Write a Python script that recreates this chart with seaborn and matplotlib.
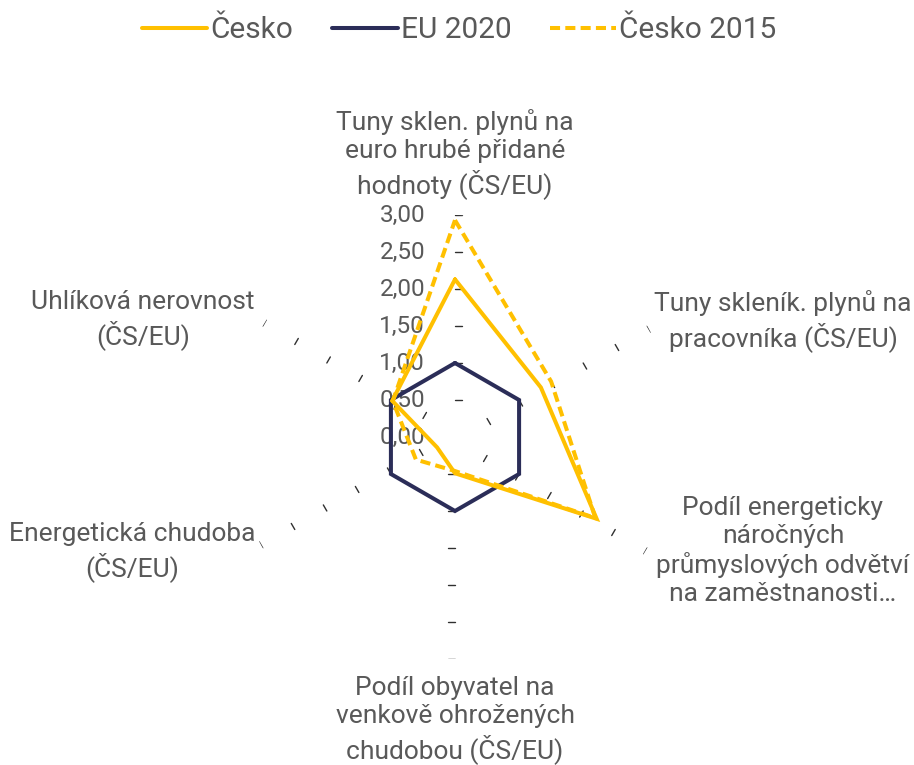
import numpy as np
import pandas as pd
import matplotlib
matplotlib.use("Agg")
import matplotlib.pyplot as plt
import seaborn as sns

categories = [
    "Tuny sklen. plynů na\neuro hrubé přidané\nhodnoty (ČS/EU)",
    "Tuny skleník. plynů na\npracovníka (ČS/EU)",
    "Podíl energeticky\nnáročných\nprůmyslových odvětví\nna zaměstnanosti…",
    "Podíl obyvatel na\nvenkově ohrožených\nchudobou (ČS/EU)",
    "Energetická chudoba\n(ČS/EU)",
    "Uhlíková nerovnost\n(ČS/EU)",
]
cesko = [2.13, 1.34, 2.21, 0.49, 0.28, 0.98]
eu2020 = [1.00, 1.00, 1.00, 1.00, 1.00, 1.00]
cesko2015 = [2.93, 1.50, 2.19, 0.46, 0.61, 0.97]
series_names = ["Česko", "EU 2020", "Česko 2015"]
tick_values = [0.0, 0.5, 1.0, 1.5, 2.0, 2.5, 3.0]
tick_labels = ["0,00", "0,50", "1,00", "1,50", "2,00", "2,50", "3,00"]

YELLOW = "#FFC000"
NAVY = "#2B2D58"
GREY = "#595959"

sns.set_theme(style="white")
plt.rcParams["font.family"] = ["Roboto", "DejaVu Sans"]

n = len(categories)
theta = np.linspace(0, 2 * np.pi, n, endpoint=False)

rows = []
for name, vals in zip(series_names, [cesko, eu2020, cesko2015]):
    for t, v in zip(list(theta) + [2 * np.pi], list(vals) + [vals[0]]):
        rows.append({"theta": t, "value": v, "series": name})
df = pd.DataFrame(rows)

W, H = 914, 765
fig = plt.figure(figsize=(W / 100, H / 100), dpi=100)
cx, cy, R = 455, 437, 222
ax = fig.add_axes([(cx - R) / W, (H - cy - R) / H, 2 * R / W, 2 * R / H], projection="polar")
ax.set_theta_zero_location("N")
ax.set_theta_direction(-1)

draw_order = ["EU 2020", "Česko 2015", "Česko"]
sns.lineplot(
    data=df, x="theta", y="value", hue="series", style="series",
    hue_order=draw_order, style_order=draw_order,
    palette={"Česko": YELLOW, "EU 2020": NAVY, "Česko 2015": YELLOW},
    dashes={"Česko": "", "EU 2020": "", "Česko 2015": (2.5, 1.3)},
    sort=False, estimator=None, linewidth=2.9, ax=ax, legend=False,
)
lines = dict(zip(draw_order, ax.get_lines()))
for ln in lines.values():
    ln.set_solid_joinstyle("miter")
    ln.set_dash_joinstyle("miter")

ax.set_ylim(0, 3)
ax.set_xticks([])
ax.set_yticks([])
ax.grid(False)
ax.spines["polar"].set_visible(False)
ax.set_facecolor("none")
ax.set_xlabel("")
ax.set_ylabel("")

# small tick dashes on every axis (clockwise side)
d = 7 / (R / 3.0)
for t in theta:
    for v in tick_values[1:]:
        r2 = np.hypot(v, d)
        t2 = t + np.arctan2(d, v)
        ax.plot([t, t2], [v, r2], color="#303030", lw=1.0, zorder=1)

# value labels on the top axis
for v, lab in zip(tick_values, tick_labels):
    ax.annotate(lab, xy=(0, v), xytext=(-21.5, 0), textcoords="offset points",
                ha="right", va="center", fontsize=17.5, color=GREY, zorder=0,
                annotation_clip=False)

# category labels
label_pos = [(455, 154), (783, 321), (783, 551), (455, 720), (132, 552), (143, 320)]
for lab, (x, y) in zip(categories, label_pos):
    fig.text(x / W, 1 - y / H, lab, ha="center", va="center", multialignment="center",
             fontsize=19, color=GREY, linespacing=1.22)

handles = [lines[s] for s in series_names]
leg = fig.legend(handles, series_names, loc="center", bbox_to_anchor=(459 / W, 1 - 30 / H),
                 ncol=3, frameon=False, fontsize=21.5, handlelength=2.2, handletextpad=0.1,
                 columnspacing=1.3)
for txt in leg.get_texts():
    txt.set_color(GREY)

fig.savefig("out.png", dpi=100)
